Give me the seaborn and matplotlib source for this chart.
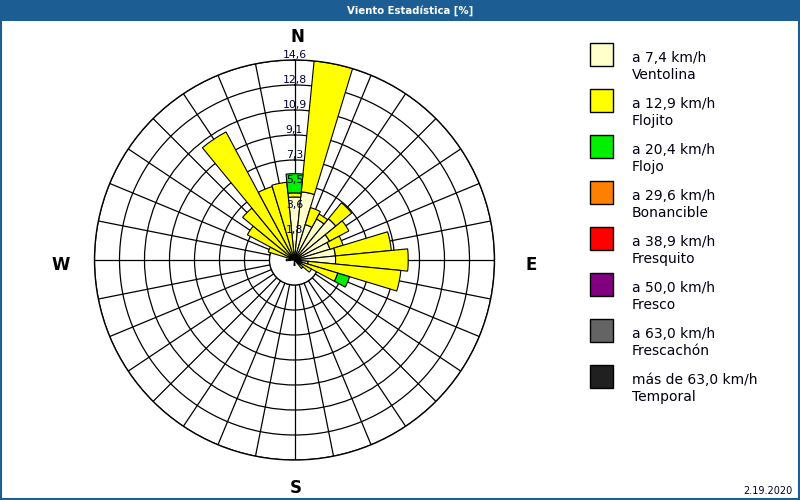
import numpy as np
import matplotlib
matplotlib.use("Agg")
import matplotlib.pyplot as plt
from matplotlib.patches import Rectangle, Circle
import seaborn as sns

# ---------------- data ----------------
directions = ["N", "NbE", "NNE", "NEbN", "NE", "NEbE", "ENE", "EbN",
              "E", "EbS", "ESE", "SEbE", "SE", "SEbS", "SSE", "SbE",
              "S", "SbW", "SSW", "SWbS", "SW", "SWbW", "WSW", "WbS",
              "W", "WbN", "WNW", "NWbW", "NW", "NWbN", "NNW", "NbW"]
ventolina = [4.6, 5.0, 2.7, 3.4, 3.9, 2.9, 2.7, 3.0,
             3.0, 1.0, 0.5, 0.4, 0.3, 0.0, 0.0, 0.0,
             0.4, 0.0, 0.0, 0.0, 0.0, 0.0, 0.0, 0.0,
             0.6, 0.0, 0.0, 0.0, 0.0, 0.0, 0.0, 0.0]
flojito = [0.3, 9.6, 1.3, 0.4, 1.5, 1.6, 1.0, 4.1,
           5.3, 6.8, 2.8, 1.0, 0.5, 0.0, 0.0, 0.0,
           0.0, 0.0, 0.0, 0.0, 0.0, 0.0, 0.0, 0.0,
           0.0, 0.0, 2.0, 3.9, 4.9, 10.6, 5.6, 5.7]
flojo = [1.4, 0.0, 0.0, 0.0, 0.0, 0.0, 0.0, 0.0,
         0.0, 0.0, 0.9, 0.0, 0.0, 0.0, 0.0, 0.0,
         0.0, 0.0, 0.0, 0.0, 0.0, 0.0, 0.0, 0.0,
         0.0, 0.0, 0.0, 0.0, 0.0, 0.0, 0.0, 0.0]

ring_values = [1.825, 3.65, 5.475, 7.3, 9.125, 10.95, 12.775, 14.6]
ring_labels = ["1,8", "3,6", "5,5", "7,3", "9,1", "10,9", "12,8", "14,6"]

legend_speeds = ["a 7,4 km/h", "a 12,9 km/h", "a 20,4 km/h", "a 29,6 km/h",
                 "a 38,9 km/h", "a 50,0 km/h", "a 63,0 km/h", "más de 63,0 km/h"]
legend_names = ["Ventolina", "Flojito", "Flojo", "Bonancible",
                "Fresquito", "Fresco", "Frescachón", "Temporal"]
legend_colors = ["#FFFFCC", "#FFFF00", "#00F000", "#FF8000",
                 "#FF0000", "#800080", "#646464", "#202020"]

title = "Viento Estadística [%]"
date_text = "2.19.2020"

# ---------------- style ----------------
sns.set_style("white")
plt.rcParams["font.family"] = ["DejaVu Sans"]
plt.rcParams["text.color"] = "#000010"

W, H = 800, 500
fig = plt.figure(figsize=(W / 100, H / 100), dpi=100)
fig.patch.set_facecolor("white")


def fx(px):
    return px / W


def fy(py):
    return 1 - py / H


# title band and border
blue = "#1C5E94"
fig.add_artist(Rectangle((0, fy(20.5)), 1, 20.5 / H, transform=fig.transFigure,
                         facecolor=blue, edgecolor="none", zorder=0))
fig.add_artist(Rectangle((0.5 / W, 1.5 / H), 1 - 1.5 / W, 1 - 2 / H,
                         transform=fig.transFigure, facecolor="none",
                         edgecolor=blue, lw=1.5, zorder=5))
fig.text(fx(410), fy(10.5), title, color="white", fontsize=7.3, fontweight="bold",
         ha="center", va="center")
fig.text(fx(792), fy(494), date_text, color="#000033", fontsize=7,
         ha="right", va="baseline")

# ---------------- polar chart ----------------
cx, cy, R = 294.5, 260, 200
ax = fig.add_axes([fx(cx - R), fy(cy + R), 2 * R / W, 2 * R / H], projection="polar")
ax.set_theta_zero_location("N")
ax.set_theta_direction(-1)
ax.set_ylim(0, ring_values[-1])
ax.set_rticks(ring_values)
ax.set_yticklabels([])
n = len(directions)
theta = np.deg2rad(np.arange(n) * 360.0 / n)
ax.set_xticks(theta)
ax.set_xticklabels([])
ax.set_axisbelow(True)
ax.grid(True, color="black", lw=0.9)
ax.spines["polar"].set_color("black")
ax.spines["polar"].set_linewidth(1.0)
ax.set_facecolor("white")

# white hub
hub = Circle((0.5, 0.5), ring_values[0] / ring_values[-1] / 2, transform=ax.transAxes,
             facecolor="white", edgecolor="black", lw=0.9, zorder=1)
ax.add_patch(hub)

width = np.deg2rad(360.0 / n)
bottom = np.zeros(n)
for vals, col in zip([ventolina, flojito, flojo], legend_colors[:3]):
    vals = np.asarray(vals)
    m = vals > 0
    ax.bar(theta[m], vals[m], width=width, bottom=bottom[m], color=col,
           edgecolor="black", lw=0.8, zorder=2)
    bottom = bottom + vals

for rv, lab in zip(ring_values, ring_labels):
    ax.text(0, rv, lab, ha="center", va="bottom", fontsize=7.8, color="#000033",
            zorder=4)

# compass labels
for lab, (px, py) in zip(["N", "S", "W", "E"],
                         [(297.5, 42), (296, 493), (60.5, 270), (531.5, 270)]):
    fig.text(fx(px), fy(py), lab, fontsize=12, fontweight="bold", ha="center",
             va="baseline", color="black")

# ---------------- legend ----------------
for i, (sp, nm, col) in enumerate(zip(legend_speeds, legend_names, legend_colors)):
    top = 43 + 46 * i
    fig.add_artist(Rectangle((fx(590), fy(top + 23)), 23 / W, 23 / H,
                             transform=fig.transFigure, facecolor=col,
                             edgecolor="black", lw=1))
    fig.text(fx(632), fy(top + 19), sp, fontsize=10, ha="left", va="baseline")
    fig.text(fx(632), fy(top + 36), nm, fontsize=10, ha="left", va="baseline")

fig.savefig("out.png", dpi=100)
